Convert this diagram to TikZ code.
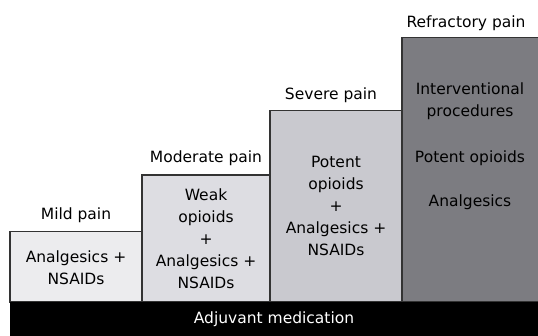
\documentclass[tikz,border=0pt]{standalone}
\usepackage{fontspec}
\setmainfont{DejaVu Sans}
\usepackage{xcolor}
\usepackage{tikz}

\definecolor{mildgray}{HTML}{ECECEE}
\definecolor{moderategray}{HTML}{DDDDE2}
\definecolor{severegray}{HTML}{C9C9CF}
\definecolor{refractorygray}{HTML}{7C7C81}
\definecolor{edgegray}{HTML}{333333}

\tikzset{
  stepfill/.style={draw=edgegray, line width=1.2pt},
  painlabel/.style={font=\fontsize{15.5}{18}\selectfont, text=black, inner sep=0pt},
  druglabel/.style={font=\fontsize{15.5}{22}\selectfont, align=center, text=black, inner sep=0pt}
}

\begin{document}
\begin{tikzpicture}[x=1pt,y=1pt]
\useasboundingbox (0,0) rectangle (538,336);

% steps of the ladder
\draw[stepfill, fill=mildgray] (10,34) rectangle (142,104.5);
\draw[stepfill, fill=moderategray] (142,34) rectangle (270,161);
\draw[stepfill, fill=severegray] (270,34) rectangle (402,225.5);
\draw[stepfill, fill=refractorygray] (402,34) rectangle (540,298.5);

% base bar
\fill[black] (10,0) rectangle (538,34);
\node [text=white, font=\fontsize{15.5}{18}\selectfont] (adjuvant) at (274,17) {Adjuvant medication};

% titles above the steps
\node [painlabel] (mild) at (76,121) {Mild pain};
\node [painlabel] (moderate) at (206,178) {Moderate pain};
\node [painlabel] (severe) at (331,241) {Severe pain};
\node [painlabel] (refractory) at (466,313) {Refractory pain};

% contents of the steps
\node [druglabel] (mildrx) at (76,68) {Analgesics +\\NSAIDs};
\node [druglabel] (moderaterx) at (206,97) {Weak\\opioids\\+\\Analgesics +\\NSAIDs};
\node [druglabel] (severerx) at (336,130) {Potent\\opioids\\+\\Analgesics +\\NSAIDs};
\node [druglabel] (interv) at (470,234.5) {Interventional\\procedures};
\node [druglabel] (potent) at (470,178) {Potent opioids};
\node [druglabel] (analg) at (470,134) {Analgesics};

\end{tikzpicture}
\end{document}
